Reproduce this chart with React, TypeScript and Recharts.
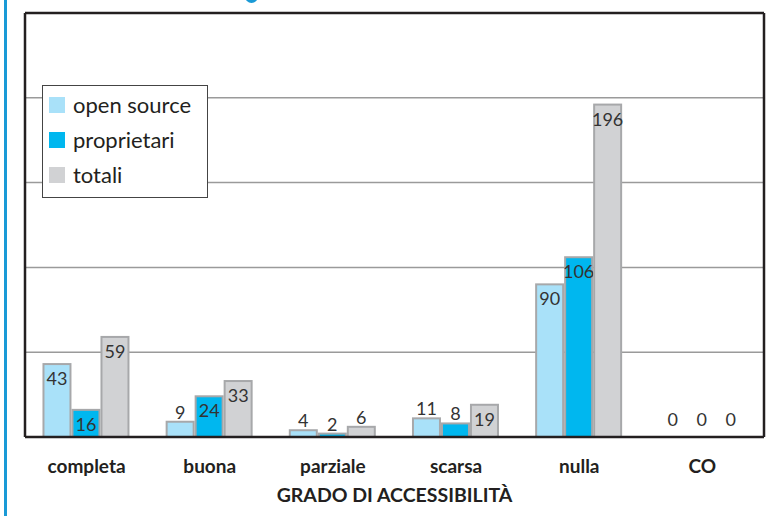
import React from "react";
import {
  BarChart,
  Bar,
  XAxis,
  YAxis,
  CartesianGrid,
  Legend,
  ReferenceLine,
} from "recharts";

const categories = ["completa", "buona", "parziale", "scarsa", "nulla", "CO"];
const openSource = [43, 9, 4, 11, 90, 0];
const proprietari = [16, 24, 2, 8, 106, 0];
const totali = [59, 33, 6, 19, 196, 0];
const yTicks = [0, 50, 100, 150, 200, 250];

const FONT = "Lato, 'Open Sans', sans-serif";
const FRAME = "#231f20";
const BAR_STROKE = "#a7a8aa";

const series = [
  { key: "openSource", name: "open source", color: "#a9e1f9" },
  { key: "proprietari", name: "proprietari", color: "#00b7ef" },
  { key: "totali", name: "totali", color: "#d1d2d4" },
];

const data = categories.map((c, i) => ({
  category: c,
  openSource: openSource[i],
  proprietari: proprietari[i],
  totali: totali[i],
}));

// bar + its value: taller bars carry the value inside, short ones above
const makeBarShape = (key: string, color: string) => (props: any) => {
  const { x, y, width, height, payload } = props;
  const v = Number(payload[key]);
  const h = Math.abs(height || 0);
  const top = height < 0 ? y + height : y;
  const cy = v >= 16 ? top + 14 : v === 0 ? top - 18 : top - 10;
  return (
    <g>
      {h > 0 && (
        <rect x={x} y={top} width={width} height={h} fill={color} stroke={BAR_STROKE} strokeWidth={2} />
      )}
      <text
        x={x + width / 2}
        y={cy}
        textAnchor="middle"
        dominantBaseline="central"
        fontSize={18}
        fill="#333"
        fontFamily={FONT}
      >
        {v}
      </text>
    </g>
  );
};

// y axis keeps its ticks (the grid needs them) but shows no labels
const NoTick = () => <g />;

const LegendBox = () => (
  <div
    style={{
      width: 166,
      height: 113,
      border: "1px solid #444",
      background: "#fff",
      fontFamily: FONT,
      fontSize: 22,
      color: "#231f20",
      paddingTop: 1,
      boxSizing: "border-box",
    }}
  >
    {series.map((s) => (
      <div key={s.key} style={{ display: "flex", alignItems: "center", height: 35 }}>
        <span
          style={{
            display: "inline-block",
            width: 16,
            height: 16,
            background: s.color,
            marginLeft: 6,
            marginRight: 8,
          }}
        />
        <span>{s.name}</span>
      </div>
    ))}
  </div>
);

export default function App() {
  return (
    <div style={{ position: "absolute", left: 0, top: 0, width: 777, height: 516, background: "#fff" }}>
      <div style={{ position: "absolute", left: 4, top: 0, width: 3, height: 516, background: "#1a9ad6" }} />
      <div
        style={{
          position: "absolute",
          left: 245,
          top: -10,
          width: 13,
          height: 13,
          borderRadius: "50%",
          background: "#1a9ad6",
        }}
      />
      <BarChart
        width={777}
        height={516}
        data={data}
        margin={{ top: 13, right: 12, bottom: 0, left: 24 }}
        barCategoryGap="15%"
        barGap={2}
      >
        <CartesianGrid vertical={false} stroke="#9a9a9a" strokeWidth={1.5} />
        <XAxis
          dataKey="category"
          height={79}
          axisLine={{ stroke: FRAME, strokeWidth: 2.5 }}
          tickLine={false}
          tickSize={0}
          tickMargin={23}
          interval={0}
          tick={{ fontFamily: FONT, fontWeight: 700, fontSize: 19, fill: "#231f20" }}
          label={{
            value: "GRADO DI ACCESSIBILITÀ",
            position: "insideBottom",
            offset: 14,
            style: { fontFamily: FONT, fontWeight: 700, fontSize: 19.5, fill: "#231f20" },
          }}
        />
        <YAxis
          width={1}
          domain={[0, 250]}
          ticks={yTicks}
          tick={NoTick}
          tickLine={false}
          axisLine={{ stroke: FRAME, strokeWidth: 2.5 }}
        />
        <YAxis
          yAxisId="right"
          orientation="right"
          width={1}
          domain={[0, 250]}
          ticks={yTicks}
          tick={NoTick}
          tickLine={false}
          axisLine={{ stroke: FRAME, strokeWidth: 2.5 }}
        />
        <ReferenceLine y={250} stroke={FRAME} strokeWidth={2.5} />
        {series.map((s) => (
          <Bar
            key={s.key}
            dataKey={s.key}
            name={s.name}
            fill={s.color}
            shape={makeBarShape(s.key, s.color)}
            isAnimationActive={false}
          />
        ))}
        <Legend
          layout="vertical"
          align="center"
          verticalAlign="middle"
          content={() => <LegendBox />}
          wrapperStyle={{ left: 42, top: 85, width: 166 }}
        />
      </BarChart>
    </div>
  );
}
